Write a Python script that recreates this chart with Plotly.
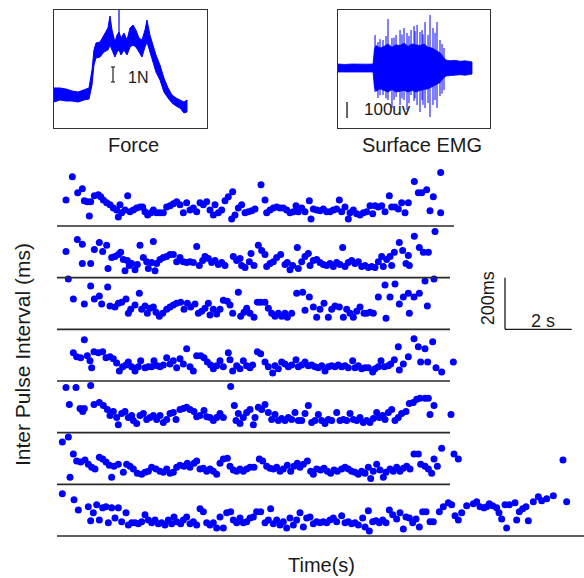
import plotly.graph_objects as go

# ---------------- main raster: pulse time (s) and inter-pulse interval (ms), 7 trials ----------------
t1 = [0.48,0.67,0.83,0.97,1.03,1.12,1.18,1.22,1.33,1.45,1.52,1.60,1.70,1.80,1.90,2.00,2.05,2.10,2.15,2.25,
      2.33,2.40,2.50,2.60,2.70,2.78,2.85,2.93,3.03,3.10,3.20,3.30,3.40,3.50,3.60,3.70,3.80,3.90,4.00,4.10,
      4.20,4.30,4.40,4.50,4.60,4.70,4.80,4.90,4.95,5.05,5.15,5.25,5.35,5.48,5.45,5.55,5.65,5.75,5.85,5.95,
      6.05,6.15,6.33,6.45,6.50,6.60,6.70,6.80,6.90,7.00,7.10,7.20,7.30,7.38,7.45,7.55,7.65,7.78,7.83,7.90,
      8.00,8.10,8.20,8.30,8.40,8.50,8.60,8.68,8.75,8.85,8.95,9.00,9.10,9.20,9.30,9.40,9.50,9.60,9.68,9.75,
      9.85,9.95,10.05,10.18,10.25,10.35,10.45,10.55,10.65,10.75,10.93,11.05,11.15,11.30,11.40,11.50,11.72,11.72]
ipi1 = [146,236,174,189,143,139,84,139,162,166,158,146,135,127,115,107,80,127,96,107,
        162,100,107,115,119,119,100,88,96,107,96,96,96,119,123,131,139,127,96,135,
        107,115,100,135,127,139,107,88,127,96,107,143,158,178,72,88,115,127,96,100,
        104,111,205,146,96,107,115,119,115,115,107,96,100,123,100,115,100,143,72,111,
        107,104,111,100,100,107,111,146,100,119,72,96,107,92,88,96,100,123,92,123,
        119,123,100,162,119,119,111,135,96,135,217,174,174,185,104,158,96,252]

t2 = [0.48,0.82,0.97,0.97,1.22,1.33,1.48,1.58,1.70,1.74,1.85,1.95,2.05,2.12,2.20,2.25,2.32,2.38,2.45,2.55,
      2.62,2.70,2.80,2.90,2.95,3.05,3.10,3.15,3.20,3.30,3.40,3.50,3.60,3.70,3.80,3.90,4.00,4.10,4.20,4.30,
      4.40,4.48,4.58,4.65,4.75,4.85,4.95,5.05,5.15,5.25,5.50,5.60,5.70,5.75,5.85,5.98,6.03,6.12,6.25,6.35,
      6.45,6.50,6.60,6.70,6.80,6.92,7.05,7.12,7.20,7.28,7.42,7.45,7.55,7.65,7.75,7.80,7.90,8.00,8.10,8.20,
      8.30,8.40,8.50,8.60,8.70,8.78,8.85,8.95,9.05,9.15,9.25,9.35,9.45,9.55,9.65,9.75,9.85,9.95,10.00,10.10,
      10.20,10.25,10.33,10.48,10.58,10.68,10.75,10.78,10.93,11.08,11.20,11.35,11.55]
ipi2 = [146,193,174,100,100,154,181,146,170,80,123,127,135,143,115,72,111,92,100,76,
        96,170,123,107,80,104,185,72,100,115,123,127,135,135,107,123,107,104,107,104,
        166,92,111,127,119,104,111,96,104,92,127,111,119,92,84,107,139,92,170,150,
        135,88,100,107,123,135,96,104,76,92,162,80,107,127,139,92,111,115,104,96,
        92,100,88,104,96,162,88,104,111,100,107,88,92,84,88,84,107,127,88,115,
        127,92,143,181,150,100,131,92,205,162,143,143,224]

t3 = [0.55,0.70,1.03,1.22,1.33,1.48,1.55,1.73,1.80,1.95,2.05,2.15,2.28,2.35,2.42,2.55,2.68,2.75,2.85,2.92,
      3.00,3.10,3.18,3.28,3.38,3.50,3.60,3.70,3.80,3.92,4.02,4.12,4.22,4.35,4.45,4.55,4.65,4.75,4.80,4.90,
      5.00,5.10,5.20,5.32,5.40,5.48,5.65,5.72,5.82,5.90,6.00,6.12,6.22,6.32,6.45,6.55,6.65,6.75,6.85,6.95,
      7.05,7.12,7.25,7.40,7.58,7.65,7.78,7.90,8.00,8.10,8.22,8.35,8.45,8.55,8.68,8.80,8.90,9.00,9.10,9.20,
      9.30,9.42,9.50,9.60,9.70,9.85,10.05,10.08,10.20,10.35,10.48,10.60,10.75,10.78,10.92,11.08,11.25,11.32,11.52]
ipi3 = [240,162,143,213,162,174,143,209,135,131,146,150,162,107,123,139,185,123,135,107,
        127,131,111,96,107,123,131,139,146,150,123,146,131,143,107,115,127,146,100,123,
        104,123,158,154,139,107,189,96,111,127,107,92,150,150,150,127,107,96,107,96,
        107,92,107,185,189,119,170,131,92,123,146,92,123,135,131,92,123,107,92,115,
        131,107,107,111,107,170,217,88,170,220,143,170,185,107,170,185,232,135,240]

t4 = [0.70,0.80,0.92,1.03,1.12,1.20,1.25,1.32,1.45,1.58,1.68,1.80,1.90,2.00,2.08,2.18,2.28,2.35,2.45,2.55,
      2.65,2.72,2.85,2.95,3.05,3.12,3.22,3.30,3.40,3.50,3.60,3.70,3.80,3.90,4.00,4.10,4.20,4.30,4.40,4.52,
      4.62,4.72,4.82,4.90,5.00,5.10,5.20,5.35,5.40,5.48,5.60,5.70,5.80,5.90,6.00,6.08,6.22,6.32,6.45,6.55,
      6.68,6.75,6.85,6.95,7.05,7.15,7.25,7.38,7.45,7.55,7.65,7.75,7.85,7.95,8.05,8.15,8.25,8.35,8.45,8.55,
      8.65,8.75,8.85,8.95,9.08,9.15,9.25,9.35,9.45,9.55,9.68,9.75,9.85,9.93,10.03,10.15,10.22,10.33,10.45,10.48,
      10.60,10.75,10.92,11.05,11.12,11.25,11.33,11.48,11.58,11.75,12.10]
ipi4 = [154,139,135,205,143,123,96,158,154,158,135,139,131,115,84,100,107,119,100,84,
        100,123,96,100,100,123,104,100,107,135,111,123,96,131,111,170,100,84,143,143,
        135,119,107,92,104,123,100,154,127,84,104,92,123,104,96,107,158,150,119,100,
        76,104,92,119,111,100,107,127,100,107,119,104,107,100,96,104,84,100,104,100,
        107,100,104,96,123,96,104,92,96,96,80,92,100,123,100,104,111,127,178,88,
        111,139,209,178,119,170,119,197,96,80,119]

t5 = [0.48,0.58,0.78,0.90,0.98,1.03,1.22,1.32,1.48,1.60,1.72,1.80,1.90,2.00,2.05,2.15,2.25,2.35,2.45,2.50,
      2.60,2.70,2.80,2.90,3.00,3.10,3.20,3.30,3.40,3.50,3.60,3.70,3.78,3.90,4.00,4.10,4.20,4.32,4.40,4.50,
      4.62,4.70,4.80,4.90,5.00,5.10,5.20,5.42,5.53,5.58,5.65,5.70,5.80,5.90,6.00,6.10,6.15,6.25,6.35,6.45,
      6.55,6.65,6.75,6.85,6.95,7.05,7.15,7.25,7.35,7.45,7.55,7.65,7.75,7.85,7.95,8.05,8.15,8.25,8.35,8.45,
      8.60,8.70,8.80,8.90,9.00,9.10,9.20,9.30,9.40,9.50,9.60,9.70,9.80,9.88,9.98,10.05,10.15,10.25,10.35,10.45,
      10.55,10.68,10.78,10.90,11.00,11.10,11.25,11.35,11.40,11.52,12.03]
ipi5 = [220,154,220,139,127,139,228,154,162,150,135,111,127,104,76,119,127,104,111,92,
        80,111,119,96,104,111,96,111,84,96,119,123,96,135,139,143,135,127,107,111,
        131,107,104,92,104,119,104,224,150,92,119,80,104,123,135,76,104,143,135,154,
        123,96,115,92,100,92,104,96,123,92,92,119,150,84,92,115,92,80,96,92,
        123,92,96,92,119,96,92,104,84,92,84,100,123,104,111,96,123,135,92,104,
        119,127,158,162,174,178,178,178,115,150,115]

t6 = [0.37,0.55,0.60,0.70,0.80,0.92,1.05,1.15,1.25,1.35,1.48,1.58,1.68,1.78,1.85,1.92,2.05,2.20,2.30,2.40,
      2.50,2.62,2.75,2.85,2.95,3.05,3.18,3.30,3.40,3.50,3.60,3.70,3.80,3.90,4.02,4.12,4.20,4.32,4.40,4.50,
      4.60,4.70,4.80,4.90,5.00,5.10,5.20,5.32,5.40,5.50,5.60,5.70,5.80,5.90,6.00,6.12,6.28,6.38,6.50,6.60,
      6.70,6.80,6.90,7.00,7.12,7.22,7.32,7.42,7.50,7.60,7.72,7.82,7.90,8.00,8.12,8.22,8.32,8.42,8.52,8.62,
      8.75,8.85,8.95,9.05,9.15,9.25,9.35,9.45,9.55,9.62,9.70,9.80,9.90,10.00,10.08,10.20,10.30,10.40,10.50,10.60,
      10.70,10.80,10.92,11.05,11.12,11.25,11.35,11.45,11.52,11.62,11.75,12.12,12.25,15.39]
ipi6 = [209,228,72,162,135,131,139,123,111,104,150,143,131,119,72,115,123,92,123,115,
        104,88,84,92,96,111,104,96,92,104,88,92,111,119,115,127,111,127,135,104,
        107,96,104,96,84,127,143,146,115,100,96,104,96,104,111,111,143,135,115,107,
        104,111,96,104,119,96,115,127,111,123,135,96,84,104,100,107,96,88,100,96,
        104,111,104,96,92,84,96,88,111,68,96,123,100,72,92,104,96,111,96,107,
        115,104,162,162,123,115,104,88,143,115,185,162,143,139]

t7 = [0.37,0.72,0.85,1.15,1.22,1.30,1.40,1.48,1.58,1.68,1.75,1.85,1.95,2.05,2.15,2.28,2.35,2.45,2.55,2.65,
      2.75,2.85,2.95,3.05,3.15,3.25,3.35,3.45,3.55,3.65,3.72,3.80,3.92,4.00,4.10,4.20,4.30,4.40,4.50,4.60,
      4.70,4.80,4.90,5.00,5.10,5.20,5.30,5.42,5.50,5.60,5.70,5.80,5.90,6.00,6.10,6.20,6.32,6.45,6.55,6.62,
      6.70,6.80,6.90,7.00,7.10,7.20,7.30,7.40,7.50,7.60,7.70,7.80,7.90,8.00,8.10,8.20,8.30,8.40,8.50,8.60,
      8.75,8.85,8.95,9.05,9.15,9.25,9.38,9.45,9.55,9.58,9.68,9.78,9.88,9.98,10.08,10.18,10.28,10.40,10.50,10.60,
      10.68,10.78,10.88,10.98,11.08,11.18,11.28,11.40,11.50,11.68,11.80,11.95,12.05,12.15,12.25,12.35,12.50,
      12.70,12.80,12.90,13.02,13.10,13.18,13.28,13.40,13.47,13.55,13.65,13.70,13.78,
      13.95,14.00,14.08,14.18,14.28,14.35,14.50,14.65,14.75,14.90,15.10,15.50]
ipi7 = [209,185,146,158,104,135,166,107,154,158,96,154,115,154,100,135,88,96,96,92,
        100,127,107,96,107,92,96,88,107,92,119,100,92,107,119,92,100,88,150,139,
        96,88,96,76,119,76,135,139,107,96,115,96,100,115,119,139,139,96,107,150,
        92,107,88,100,76,115,88,107,135,80,115,119,92,100,96,100,96,107,115,100,
        123,96,100,92,96,88,115,80,143,64,100,104,96,107,96,146,127,111,135,72,
        119,115,96,111,80,139,139,100,100,139,158,174,166,123,107,135,162,
        170,178,158,154,158,170,162,154,135,111,166,76,166,
        174,107,139,150,158,104,178,197,181,189,201,178]

# ---------------- force inset (s, N) ----------------
force_t = [0,0.86,1.71,2.57,3.43,4.29,5.0,5.43,5.71,6.0,6.57,7.14,7.71,8.0,8.29,8.71,9.0,9.29,9.57,10.0,
           10.43,10.86,11.29,11.71,12.14,12.57,13.0,13.29,13.71,14.14,14.57,15.14,15.71,16.29,16.86,17.43,18.0,18.57,19.0]
force_hi = [2.67,2.67,2.6,2.47,2.4,2.53,2.67,3.87,5.2,5.67,5.73,6.2,6.67,7.47,6.53,5.73,6.2,6.4,6.0,6.33,
            5.87,6.67,6.87,6.53,6.0,5.87,6.53,7.2,6.2,5.53,4.87,4.2,3.33,2.67,2.2,2.0,1.87,1.73,1.87]
force_lo = [1.73,1.87,1.8,1.8,1.73,1.87,1.93,2.87,4.2,4.67,4.73,5.07,5.2,5.53,5.2,4.73,5.07,5.2,4.87,5.2,
            4.87,5.4,5.53,5.4,5.07,4.73,5.4,5.73,5.07,4.4,3.73,3.2,2.4,2.0,1.67,1.47,1.33,1.0,1.07]
force_spike_t = [9.29]
force_spike_top = [7.87]

# ---------------- surface EMG inset (s, uV) ----------------
emg_t = [0,1.0,2.0,3.14,4.14,5.0,5.21,5.43,6.0,6.57,7.14,7.71,8.29,8.86,9.43,10.0,10.57,11.14,11.71,12.29,
         12.86,13.43,14.0,14.57,15.0,15.43,16.0,16.71,17.43,18.14,18.86,19.14]
emg_hi = [25,22,25,22,24,25,120,140,125,135,150,130,145,140,155,135,150,145,140,150,
          130,125,110,95,70,50,45,48,42,45,40,38]
emg_lo = [-25,-22,-24,-22,-25,-25,-125,-145,-130,-140,-150,-135,-150,-145,-140,-150,-140,-150,-140,-135,
          -130,-120,-105,-90,-65,-50,-45,-45,-42,-45,-40,-38]
spike_t = [5.29,5.71,6.0,6.43,6.86,7.14,7.71,8.0,8.29,8.86,9.14,9.43,9.86,10.14,10.43,10.86,11.0,11.29,11.71,12.0,
           12.14,12.43,12.86,13.14,13.57,13.86,14.14,14.57,14.86,15.14]
spike_up = [206,162,180,175,200,306,187,190,206,237,210,250,219,200,237,262,230,269,225,237,
            210,287,206,331,250,220,287,175,150,125]
spike_dn = [-150,-187,-170,-169,-190,-200,-250,-200,-181,-231,-190,-200,-262,-220,-169,-206,-190,-231,-275,-200,
            -230,-250,-219,-306,-231,-200,-250,-175,-160,-137]

rows = [(t1, ipi1), (t2, ipi2), (t3, ipi3), (t4, ipi4), (t5, ipi5), (t6, ipi6), (t7, ipi7)]
for i, (a, b) in enumerate(rows):
    assert len(a) == len(b), f"row {i+1}: {len(a)} vs {len(b)}"
assert len(force_t) == len(force_hi) == len(force_lo)
assert len(emg_t) == len(emg_hi) == len(emg_lo)
assert len(spike_t) == len(spike_up) == len(spike_dn)

ROW_MS = 200     # vertical space of one trial row (ms)
BASE_MS = 45     # IPI value sitting on a row's baseline
BLUE = "#0000ff"
INK = "#1a1a1a"
FONT = "Arial, 'Liberation Sans', sans-serif"
W, H = 584, 578

fig = go.Figure()

shapes = []
for k, (t, ipi) in enumerate(rows):
    off = (len(rows) - 1 - k) * ROW_MS
    fig.add_trace(go.Scatter(
        x=t, y=[v - BASE_MS + off for v in ipi], mode="markers",
        marker=dict(size=7, color=BLUE, line=dict(width=0)),
        xaxis="x", yaxis="y", cliponaxis=False, hoverinfo="skip", showlegend=False))
    x_end = 16.2 if k == len(rows) - 1 else (12.12 if k == 0 else 12.0)
    shapes.append(dict(type="line", xref="x", yref="y", x0=0.21, x1=x_end, y0=off, y1=off,
                       line=dict(color="#2a2a2a", width=1.6)))

# scale bar 200 ms / 2 s anchored on third row baseline
sb_t, sb_y = 13.65, 4 * ROW_MS
shapes.append(dict(type="line", xref="x", yref="y", x0=sb_t, x1=sb_t, y0=sb_y, y1=sb_y + 200,
                   line=dict(color=INK, width=1.3)))
shapes.append(dict(type="line", xref="x", yref="y", x0=sb_t, x1=sb_t + 2, y0=sb_y, y1=sb_y,
                   line=dict(color=INK, width=1.3)))

# force inset
fig.add_trace(go.Scatter(
    x=force_t + force_t[::-1], y=force_hi + force_lo[::-1], mode="lines", fill="toself",
    fillcolor=BLUE, line=dict(color=BLUE, width=1), xaxis="x2", yaxis="y2",
    hoverinfo="skip", showlegend=False))
fx, fy = [], []
for t, top in zip(force_spike_t, force_spike_top):
    fx += [t, t, None]
    fy += [5.3, top, None]
fig.add_trace(go.Scatter(x=fx, y=fy, mode="lines", line=dict(color=BLUE, width=1.2),
                         xaxis="x2", yaxis="y2", hoverinfo="skip", showlegend=False))
# 1 N scale bar
fig.add_trace(go.Scatter(x=[8.15, 8.71, None, 8.43, 8.43, None, 8.15, 8.71],
                         y=[3.07, 3.07, None, 3.07, 4.07, None, 4.07, 4.07],
                         mode="lines", line=dict(color="#333333", width=1.3),
                         xaxis="x2", yaxis="y2", hoverinfo="skip", showlegend=False))

# EMG inset
fig.add_trace(go.Scatter(
    x=emg_t + emg_t[::-1], y=emg_hi + emg_lo[::-1], mode="lines", fill="toself",
    fillcolor=BLUE, line=dict(color=BLUE, width=0.8), xaxis="x3", yaxis="y3",
    hoverinfo="skip", showlegend=False))
ex, ey = [], []
for t, u, d in zip(spike_t, spike_up, spike_dn):
    ex += [t, t, None]
    ey += [u, d, None]
fig.add_trace(go.Scatter(x=ex, y=ey, mode="lines", line=dict(color=BLUE, width=1),
                         xaxis="x3", yaxis="y3", hoverinfo="skip", showlegend=False))
fig.add_trace(go.Scatter(x=[1.29, 1.29], y=[-212.5, -312.5], mode="lines",
                         line=dict(color="#333333", width=1.5),
                         xaxis="x3", yaxis="y3", hoverinfo="skip", showlegend=False))

# 5 s bar (inset time scale)
shapes.append(dict(type="line", xref="x2", yref="paper", x0=29.14, x1=34.14,
                   y0=1 - 128 / H, y1=1 - 128 / H, line=dict(color="#333333", width=1.3)))

box = dict(showline=True, mirror=True, linecolor="#333333", linewidth=1,
           showticklabels=False, ticks="", showgrid=False, zeroline=False, fixedrange=True)
hidden = dict(visible=False, showgrid=False, zeroline=False, fixedrange=True)

fig.update_layout(
    width=W, height=H, margin=dict(l=0, r=0, t=0, b=0),
    paper_bgcolor="white", plot_bgcolor="white", showlegend=False,
    font=dict(family=FONT, color=INK),
    xaxis=dict(domain=[0, 1], range=[-1.5, 16.02], anchor="y", **hidden),
    yaxis=dict(domain=[0, 1], range=[-162.6, 2074.8], anchor="x", **hidden),
    xaxis2=dict(domain=[54 / W, 207 / W], range=[0, 21.86], anchor="y2", **box),
    yaxis2=dict(domain=[1 - 128 / H, 1 - 10 / H], range=[0, 7.87], anchor="x2", **box),
    xaxis3=dict(domain=[338 / W, 490 / W], range=[0, 21.71], anchor="y3", **box),
    yaxis3=dict(domain=[1 - 128 / H, 1 - 10 / H], range=[-375, 362.5], anchor="x3", **box),
    shapes=shapes,
)

def note(text, x, y, xref="paper", yref="paper", size=18, angle=0):
    fig.add_annotation(text=text, x=x, y=y, xref=xref, yref=yref, showarrow=False,
                       xanchor="center", yanchor="middle", textangle=angle,
                       font=dict(family=FONT, size=size, color=INK))

note("Force", 133 / W, 1 - 145 / H, size=20)
note("Surface EMG", 422 / W, 1 - 145 / H, size=20)
note("5s", 32.57, 1 - 143 / H, xref="x2", size=16)
note("1N", 12.0, 3.4, xref="x2", yref="y2", size=16)
note("100uv", 7.0, -262, xref="x3", yref="y3", size=17)
note("200ms", 13.14, 920, xref="x", yref="y", size=18, angle=-90)
note("2 s", 14.79, 831, xref="x", yref="y", size=18)
note("Inter Pulse Interval (ms)", 22 / W, 1 - 355 / H, size=21, angle=-90)
note("Time(s)", 321 / W, 1 - 565 / H, size=20)

fig.write_html("out.html", config={"displayModeBar": False},
               post_script="document.body.style.margin='0px';document.body.style.overflow='hidden';")
